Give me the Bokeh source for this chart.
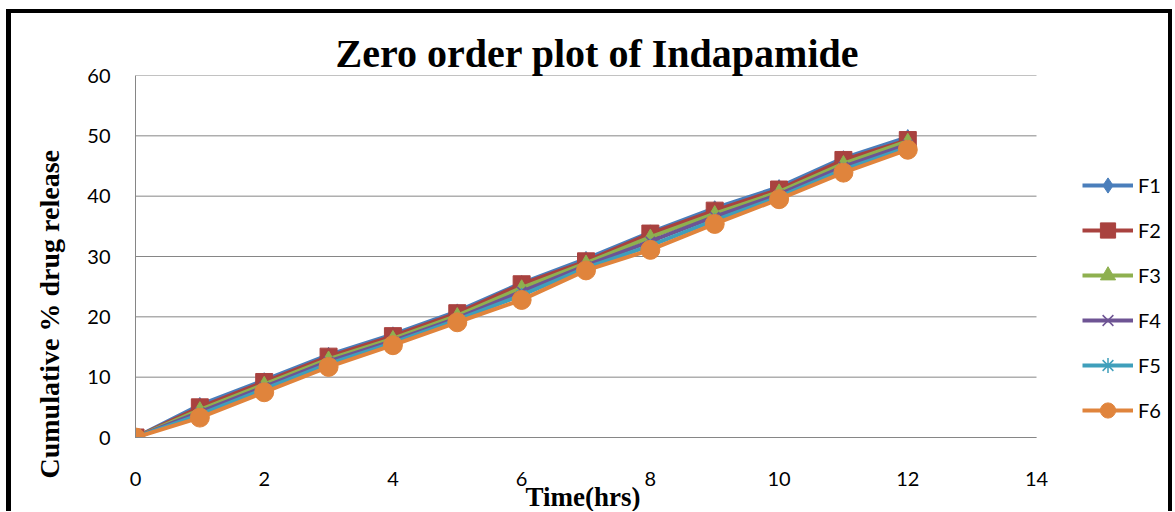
from bokeh.plotting import figure
from bokeh.models import Range1d, FixedTicker, Legend, LegendItem, Title
from bokeh.embed import file_html
from bokeh.resources import INLINE

# ---------------- data ----------------
time_hrs = [0, 1, 2, 3, 4, 5, 6, 7, 8, 9, 10, 11, 12]
f1 = [0, 5.4, 9.5, 13.7, 17.1, 20.9, 25.6, 29.6, 34.0, 38.0, 41.5, 46.3, 49.8]
f2 = [0, 5.0, 9.2, 13.4, 16.8, 20.6, 25.4, 29.2, 33.8, 37.6, 41.1, 46.0, 49.3]
f3 = [0, 4.6, 8.8, 13.0, 16.4, 20.2, 24.8, 28.9, 33.2, 37.1, 40.7, 45.4, 49.1]
f4 = [0, 4.2, 8.4, 12.6, 16.0, 19.8, 24.2, 28.5, 32.5, 36.6, 40.3, 44.9, 48.6]
f5 = [0, 3.8, 8.0, 12.2, 15.7, 19.5, 23.6, 28.1, 31.8, 36.0, 39.9, 44.4, 48.1]
f6 = [0, 3.3, 7.5, 11.7, 15.3, 19.1, 22.8, 27.7, 31.1, 35.4, 39.5, 43.9, 47.7]
series_names = ["F1", "F2", "F3", "F4", "F5", "F6"]
x_ticks = [0, 2, 4, 6, 8, 10, 12, 14]
y_ticks = [0, 10, 20, 30, 40, 50, 60]

title_text = "Zero order plot of Indapamide"
x_label_text = "Time(hrs)"
y_label_text = "Cumulative % drug release"

# ---------------- styles ----------------
colors = ["#4A7EBB", "#A9423F", "#8EB04F", "#6E5494", "#3F9FBB", "#E0843C"]
markers = ["diamond", "square", "triangle", "x", "asterisk", "circle"]
msizes = [15, 17, 14, 13, 14, 19]
grey = "#868686"
tick_font = "Lato"
serif = "Liberation Serif"

# layout (page pixels): plot area 135..1036 x, 75..437 y
fig_w, fig_h = 1166, 502
canvas_left, canvas_top = 11, 13
plot_left, plot_right, plot_top, plot_bottom = 135, 1036, 75, 437
canvas_right = canvas_left + fig_w
x_end = x_ticks[-1] * (canvas_right - plot_left) / (plot_right - plot_left)

p = figure(width=fig_w, height=fig_h, output_backend="svg", toolbar_location=None,
           x_range=Range1d(x_ticks[0], x_end), y_range=Range1d(y_ticks[0], y_ticks[-1]),
           min_border_left=plot_left - canvas_left, min_border_right=0,
           min_border_top=plot_top - canvas_top,
           min_border_bottom=canvas_top + fig_h - plot_bottom)
p.styles = {"border-left": "5px solid black", "border-top": "4px solid black",
            "border-right": "4px solid black",
            "margin-left": "6px", "margin-top": "9px"}
p.outline_line_color = None
p.background_fill_color = "white"
p.border_fill_color = "white"
p.xgrid.visible = False
p.ygrid.visible = False

# horizontal gridlines limited to the 0..14 plot area
n = len(y_ticks)
p.segment(x0=[x_ticks[0]] * n, x1=[x_ticks[-1]] * n, y0=y_ticks, y1=y_ticks,
          line_color=grey, line_width=1)

p.xaxis.ticker = FixedTicker(ticks=x_ticks)
p.yaxis.ticker = FixedTicker(ticks=y_ticks)
p.xaxis.bounds = (x_ticks[0], x_ticks[-1])
for ax in (p.xaxis, p.yaxis):
    ax.axis_line_color = grey
    ax.axis_line_width = 1
    ax.major_tick_out = 0
    ax.major_tick_in = 0
    ax.minor_tick_out = 0
    ax.minor_tick_in = 0
    ax.major_label_text_font = tick_font
    ax.major_label_text_font_size = "20px"
    ax.major_label_text_color = "#000000"
p.xaxis.major_label_standoff = 34
p.yaxis.major_label_standoff = 25

items = []
all_series = [f1, f2, f3, f4, f5, f6]
for name, ys, c, m, s in zip(series_names, all_series, colors, markers, msizes):
    lr = p.line(time_hrs, ys, line_color=c, line_width=4)
    if m in ("x", "asterisk"):
        sr = p.scatter(time_hrs, ys, marker=m, size=s, line_color=c, line_width=1.5,
                       fill_color=c)
    else:
        sr = p.scatter(time_hrs, ys, marker=m, size=s, line_color=c, fill_color=c)
    items.append(LegendItem(label=name, renderers=[lr, sr]))

legend = Legend(items=items, location=(947, 8),
                border_line_color=None, background_fill_alpha=0,
                padding=0, margin=0, spacing=7,
                glyph_width=51, glyph_height=38, label_height=38,
                label_standoff=5, label_text_font=tick_font,
                label_text_font_size="20px", label_text_color="#000000")
p.add_layout(legend)

# main title
p.title.text = title_text
p.title.text_font = serif
p.title.text_font_style = "bold"
p.title.text_font_size = "40px"
p.title.text_color = "#000000"
p.title.align = "left"
p.title.offset = 200
p.title.standoff = 0

# x axis label
p.add_layout(Title(text=x_label_text, align="left", offset=390, standoff=-17,
                   text_font=serif, text_font_style="bold", text_font_size="27px",
                   text_color="#000000"), "below")

# y axis label
p.add_layout(Title(text=y_label_text, align="left", offset=-41, standoff=40,
                   text_font=serif, text_font_style="bold", text_font_size="28px",
                   text_color="#000000"), "left")

open("out.html", "w").write(file_html(p, INLINE))
